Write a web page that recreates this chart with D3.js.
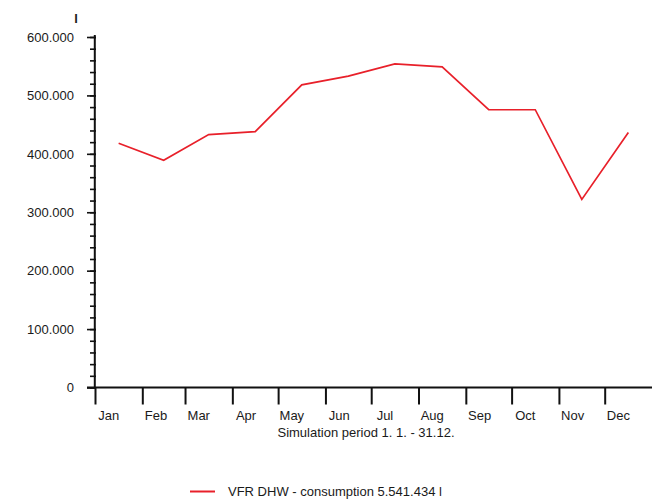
<!DOCTYPE html>
<html>
<head>
<meta charset="utf-8">
<script src="https://cdn.jsdelivr.net/npm/d3@7"></script>
<style>
  html, body { margin: 0; padding: 0; background: #fff; }
  svg { display: block; font-family: "Liberation Sans", Arial, sans-serif; }
  text { fill: #1a1a1a; }
</style>
</head>
<body>
<svg id="chart" width="667" height="499"></svg>
<script>
// Monthly domestic hot water consumption (litres)
const months = ["Jan", "Feb", "Mar", "Apr", "May", "Jun", "Jul", "Aug", "Sep", "Oct", "Nov", "Dec"];
const consumption = [418000, 389000, 433000, 438000, 518000, 533000, 554000, 549000, 475500, 475500, 322000, 436434];
const yTicks = [0, 100000, 200000, 300000, 400000, 500000, 600000];
const seriesName = "VFR DHW - consumption";
const unit = "l";
const xTitle = "Simulation period 1. 1. - 31.12.";

const de = d3.formatLocale({ decimal: ",", thousands: ".", grouping: [3], currency: ["", " €"] });
const fmt = de.format(",d");

const year = 2021;
const start = new Date(year, 0, 1), end = new Date(year + 1, 0, 1);
const monthStarts = d3.timeMonth.range(start, end);
const monthMid = monthStarts.map(m => new Date((+m + +d3.timeMonth.offset(m, 1)) / 2));

const svg = d3.select("#chart");
const x = d3.scaleTime().domain([start, end]).range([95, 652]);
const y = d3.scaleLinear().domain([0, 600000]).range([387.5, 37]);

// y axis: minor ticks every 20.000, major every 100.000
svg.append("g")
  .attr("transform", "translate(96,0)")
  .call(d3.axisLeft(y).tickValues(d3.range(0, 600001, 20000)).tickSize(6).tickFormat(""))
  .call(g => g.select(".domain").remove())
  .call(g => g.selectAll("line").attr("stroke", "#111").attr("stroke-width", 1.6));

svg.append("g")
  .attr("transform", "translate(96,0)")
  .call(d3.axisLeft(y).tickValues(yTicks).tickSize(9).tickPadding(13).tickFormat(fmt))
  .call(g => g.select(".domain").remove())
  .call(g => g.selectAll("line").attr("stroke", "#111").attr("stroke-width", 1.6))
  .call(g => g.selectAll("text").attr("font-size", 13).attr("fill", "#1a1a1a")
      .attr("font-family", "Liberation Sans, Arial, sans-serif"));

// y axis line
svg.append("line")
  .attr("x1", 94.8).attr("x2", 94.8)
  .attr("y1", 35).attr("y2", y(0))
  .attr("stroke", "#111").attr("stroke-width", 2);

// unit label above the y axis
svg.append("text")
  .attr("x", 76).attr("y", 23)
  .attr("text-anchor", "middle")
  .attr("font-size", 13).attr("font-weight", "bold")
  .text(unit);

// x axis line
svg.append("line")
  .attr("x1", 87).attr("x2", x(end))
  .attr("y1", y(0)).attr("y2", y(0))
  .attr("stroke", "#111").attr("stroke-width", 2);

// month boundary ticks
svg.append("g")
  .attr("transform", `translate(0,${y(0)})`)
  .call(d3.axisBottom(x).tickValues(monthStarts).tickSize(17).tickFormat(""))
  .call(g => g.select(".domain").remove())
  .call(g => g.selectAll("line").attr("stroke", "#111").attr("stroke-width", 2));

// month labels
svg.append("g").selectAll("text")
  .data(monthStarts)
  .join("text")
  .attr("x", d => x(d3.timeDay.offset(d, 9)))
  .attr("y", 420)
  .attr("text-anchor", "middle")
  .attr("font-size", 13)
  .text((d, i) => months[i]);

// x axis title
svg.append("text")
  .attr("x", 366).attr("y", 437)
  .attr("text-anchor", "middle")
  .attr("font-size", 13)
  .text(xTitle);

// consumption line
const line = d3.line()
  .x((d, i) => x(monthMid[i]))
  .y(d => y(d));

svg.append("path")
  .datum(consumption)
  .attr("fill", "none")
  .attr("stroke", "#e8202a")
  .attr("stroke-width", 1.7)
  .attr("stroke-linejoin", "miter")
  .attr("d", line);

// legend
svg.append("line")
  .attr("x1", 190).attr("x2", 215)
  .attr("y1", 491.5).attr("y2", 491.5)
  .attr("stroke", "#e8202a").attr("stroke-width", 2);

svg.append("text")
  .attr("x", 228).attr("y", 496)
  .attr("font-size", 13)
  .text(`${seriesName} ${fmt(d3.sum(consumption))} ${unit}`);
</script>
</body>
</html>
